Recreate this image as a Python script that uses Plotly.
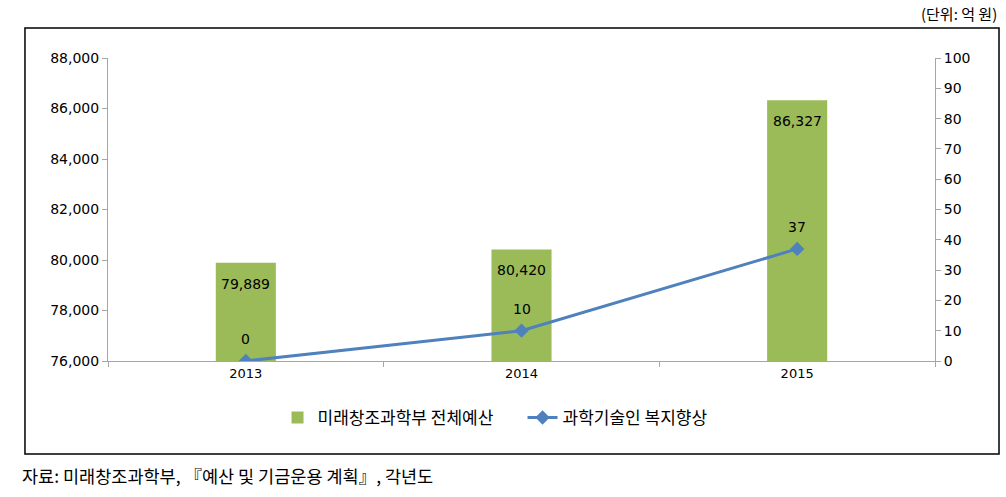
import plotly.graph_objects as go

years = ["2013", "2014", "2015"]
budget = [79889, 80420, 86327]
welfare = [0, 10, 37]
budget_labels = ["79,889", "80,420", "86,327"]
welfare_labels = ["0", "10", "37"]

BAR = "#9BBB59"
LINE = "#4F81BD"
AX = "#A6A6A6"
FONT = "DejaVu Sans"
KFONT = "Noto Sans CJK KR"

fig = go.Figure()
fig.add_trace(go.Bar(
    x=years, y=[b - 76000 for b in budget], base=76000, width=0.218,
    marker=dict(color=BAR, line=dict(width=0)),
    name="미래창조과학부 전체예산", yaxis="y",
))
fig.add_trace(go.Scatter(
    x=years, y=welfare, mode="lines+markers",
    line=dict(color=LINE, width=3),
    marker=dict(symbol="diamond", size=11, color=LINE),
    name="과학기술인 복지향상", yaxis="y2",
))

ann = []
for i, (v, t) in enumerate(zip(budget, budget_labels)):
    ann.append(dict(x=i, y=v, xref="x", yref="y", text=t, showarrow=False,
                    yshift=-21, font=dict(family=FONT, size=14, color="#000")))
for i, (v, t) in enumerate(zip(welfare, welfare_labels)):
    ann.append(dict(x=i, y=v, xref="x", yref="y2", text=t, showarrow=False,
                    yshift=22, font=dict(family=FONT, size=14, color="#000")))
ann.append(dict(x=1.0774, y=1.148, xref="paper", yref="paper", xanchor="right", yanchor="middle",
                text="(단위: 억 원)", showarrow=False, font=dict(family=KFONT, size=15, color="#000")))
ann.append(dict(x=-0.106, y=-0.377, xref="paper", yref="paper", xanchor="left", yanchor="middle",
                text="자료: 미래창조과학부, 『예산 및 기금운용 계획』, 각년도", showarrow=False,
                font=dict(family=KFONT, size=17.5, color="#000")))

fig.update_layout(
    width=1006, height=497,
    margin=dict(l=108, r=71, t=58, b=136),
    paper_bgcolor="white", plot_bgcolor="white",
    showlegend=True,
    legend=dict(orientation="h", x=0.205, xanchor="left", y=-0.188, yanchor="middle",
                font=dict(family=KFONT, size=17, color="#000"), itemwidth=30,
                traceorder="normal", entrywidth=200, entrywidthmode="pixels"),
    xaxis=dict(type="category", range=[-0.5, 2.5], showline=True, linecolor=AX, linewidth=1,
               ticks="outside", tickson="boundaries", ticklen=5, tickcolor=AX,
               tickfont=dict(family=FONT, size=13, color="#000"), showgrid=False),
    yaxis=dict(range=[76000, 88000], dtick=2000, tickformat=",", showline=True, linecolor=AX,
               ticks="outside", ticklen=5, tickcolor=AX, showgrid=False, zeroline=False,
               tickfont=dict(family=FONT, size=14, color="#000")),
    yaxis2=dict(range=[0, 100], dtick=10, overlaying="y", side="right", showline=True,
                linecolor=AX, ticks="outside", ticklen=5, tickcolor=AX, showgrid=False,
                zeroline=False, tickfont=dict(family=FONT, size=14, color="#000")),
    annotations=ann,
    shapes=[dict(type="rect", xref="paper", yref="paper", x0=-0.1004, x1=1.0774,
                 y0=-0.307, y1=1.099, line=dict(color="black", width=1.5), layer="below")],
)

fig.write_html("out.html", config={"displayModeBar": False},
               post_script="document.body.style.margin='0';")
